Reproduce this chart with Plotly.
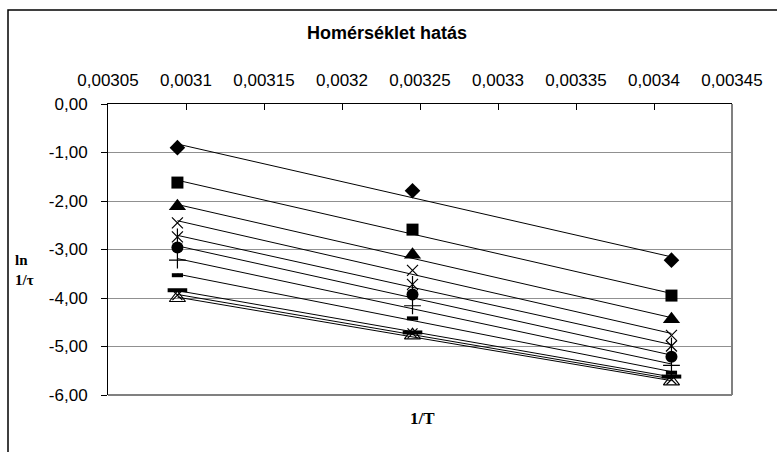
import numpy as np
import plotly.graph_objects as go

# 1/T values (1/K) for 50, 35 and 20 °C
inv_T = [0.0030945, 0.0032452, 0.0034112]

# ln(1/tau) values per series
series = {
    "s1": [-0.90, -1.79, -3.22],
    "s2": [-1.62, -2.59, -3.95],
    "s3": [-2.11, -3.11, -4.44],
    "s4": [-2.45, -3.43, -4.77],
    "s5": [-2.74, -3.72, -4.99],
    "s6": [-2.96, -3.93, -5.21],
    "s7": [-3.22, -4.16, -5.39],
    "s8": [-3.53, -4.42, -5.54],
    "s9": [-3.84, -4.71, -5.62],
    "s10": [-3.94, -4.73, -5.68],
    "s11": [-4.00, -4.77, -5.72],
}

x_ticks = [0.00305, 0.0031, 0.00315, 0.0032, 0.00325, 0.0033, 0.00335, 0.0034, 0.00345]
x_tick_text = ["0,00305", "0,0031", "0,00315", "0,0032", "0,00325", "0,0033", "0,00335", "0,0034", "0,00345"]
y_ticks = [0, -1, -2, -3, -4, -5, -6]
y_tick_text = ["0,00", "-1,00", "-2,00", "-3,00", "-4,00", "-5,00", "-6,00"]

# marker style per series: (symbol, size, line width)
styles = {
    "s1": ("diamond", 12, 0),
    "s2": ("square", 12, 0),
    "s3": ("triangle-up", 15, 0),
    "s4": ("x-thin", 11, 1.2),
    "s5": ("x-thin", 11, 1.2),
    "s6": ("circle", 12, 0),
    "s7": ("cross-thin", 12, 1.2),
    "s8": ("line-ew", 8, 4),
    "s9": ("line-ew", 14, 4),
    "s10": ("x-thin", 10, 1.2),
    "s11": ("triangle-up-open", 14, 1.2),
}

fig = go.Figure()

for name, ys in series.items():
    # linear trendline through each series
    k, b = np.polyfit(inv_T, ys, 1)
    xl = [inv_T[0], inv_T[-1]]
    fig.add_trace(go.Scatter(
        x=xl, y=[k * xv + b for xv in xl], mode="lines",
        line=dict(color="black", width=1), showlegend=False, hoverinfo="skip"))

for name, ys in series.items():
    sym, size, lw = styles[name]
    fig.add_trace(go.Scatter(
        x=inv_T, y=ys, mode="markers", showlegend=False,
        marker=dict(symbol=sym, size=size, color="black",
                    line=dict(color="black", width=lw))))
    if name == "s5":
        # vertical bar turning the x into a star marker
        fig.add_trace(go.Scatter(
            x=inv_T, y=ys, mode="markers", showlegend=False,
            marker=dict(symbol="line-ns", size=12, color="black",
                        line=dict(color="black", width=1.2))))

serif = "Liberation Serif, Times New Roman, serif"

fig.update_layout(
    width=777, height=452,
    margin=dict(l=108, r=45, t=104, b=57),
    paper_bgcolor="white", plot_bgcolor="white",
    font=dict(family="Liberation Sans, Arial, sans-serif", size=17, color="black"),
    title=dict(text="<b>Homérséklet hatás</b>", x=387 / 777,
               xanchor="center", xref="container", y=(452 - 33) / 452, yref="container",
               yanchor="middle",
               font=dict(size=18, family="Liberation Sans, Arial, sans-serif")),
    xaxis=dict(
        side="top", range=[0.00305, 0.00345], tickvals=x_ticks, ticktext=x_tick_text,
        showgrid=False, zeroline=False, showline=True, linecolor="black", linewidth=1,
        ticks="inside", ticklen=6, tickcolor="black", anchor="y",
        tickfont=dict(size=17), ticklabelstandoff=10,
    ),
    yaxis=dict(
        range=[-6, 0], tickvals=y_ticks, ticktext=y_tick_text,
        showgrid=True, gridcolor="#909090", gridwidth=1, zeroline=False,
        showline=True, linecolor="black", linewidth=1,
        ticks="outside", ticklen=6, tickcolor="black", tickfont=dict(size=17),
        ticklabelstandoff=10,
    ),
    shapes=[
        # plot-area frame on the right and bottom
        dict(type="line", xref="paper", yref="paper", x0=1, x1=1, y0=0, y1=1,
             line=dict(color="#808080", width=2)),
        dict(type="line", xref="paper", yref="paper", x0=0, x1=1, y0=0, y1=0,
             line=dict(color="#808080", width=2)),
        # outer chart border
        dict(type="rect", xref="paper", yref="paper",
             x0=-100 / 624, x1=1.5, y0=-1, y1=(395 - 10) / 291,
             line=dict(color="black", width=1.5), layer="below"),
    ],
    annotations=[
        dict(text="<b>ln<br>1/τ</b>", xref="paper", yref="paper",
             x=-95 / 624, y=(395 - 270) / 291, xanchor="left", yanchor="middle",
             showarrow=False, align="left", font=dict(family=serif, size=15)),
        dict(text="<b>1/T</b>", xref="paper", yref="paper",
             x=(422 - 108) / 624, y=-(418 - 395) / 291, xanchor="center", yanchor="middle",
             showarrow=False, font=dict(family=serif, size=17)),
    ],
)

fig.write_html("out.html")
